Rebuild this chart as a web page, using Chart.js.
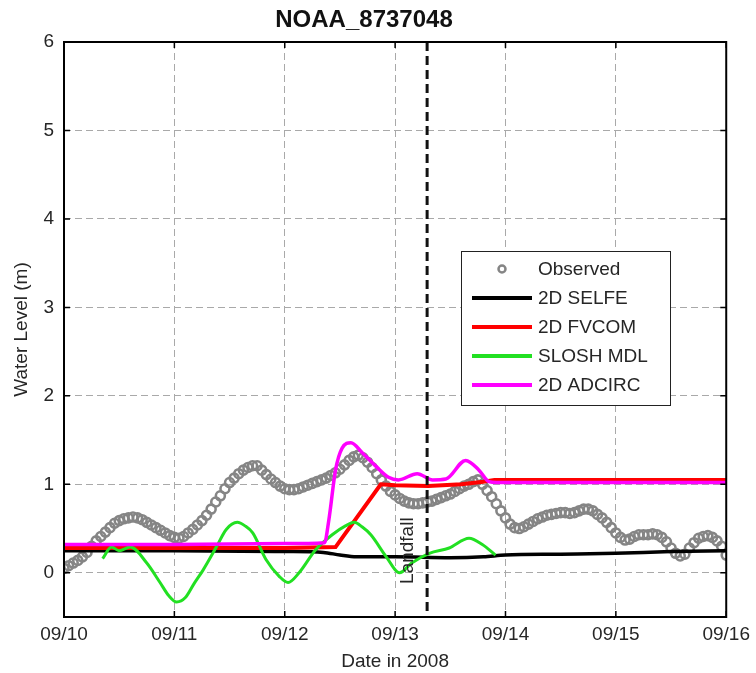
<!DOCTYPE html>
<html>
<head>
<meta charset="utf-8">
<title>NOAA_8737048</title>
<script src="https://cdn.jsdelivr.net/npm/chart.js@4.4.1/dist/chart.umd.min.js"></script>
<style>
  html, body { margin: 0; padding: 0; background: #fff; }
  #wrap { width: 756px; height: 673px; }
</style>
</head>
<body>
<div id="wrap"><canvas id="chart" width="756" height="673"></canvas></div>
<script>
// ---- data (days since 09/10 00:00) ----
const chartTitle = 'NOAA_8737048';
const xTickLabels = ['09/10', '09/11', '09/12', '09/13', '09/14', '09/15', '09/16'];
const yTickValues = [0, 1, 2, 3, 4, 5, 6];
const landfallDay = 3.29;
const landfallLabel = 'Landfall';

// observed water level, one reading per hour from 09/10 00:00
const obsStepHours = 1;
const observed = [
  0.05, 0.08, 0.11, 0.14, 0.18, 0.23, 0.30, 0.36, 0.41, 0.46, 0.51, 0.56,
  0.59, 0.61, 0.62, 0.63, 0.62, 0.60, 0.57, 0.54, 0.51, 0.48, 0.45, 0.42,
  0.40, 0.39, 0.41, 0.45, 0.49, 0.54, 0.59, 0.65, 0.72, 0.80, 0.87, 0.95,
  1.02, 1.07, 1.12, 1.16, 1.19, 1.21, 1.21, 1.16, 1.11, 1.06, 1.02, 0.98,
  0.95, 0.94, 0.94, 0.95, 0.97, 0.99, 1.01, 1.03, 1.05, 1.07, 1.10, 1.13,
  1.17, 1.22, 1.27, 1.31, 1.33, 1.30, 1.25, 1.19, 1.12, 1.05, 0.98, 0.92,
  0.88, 0.84, 0.81, 0.79, 0.78, 0.78, 0.79, 0.80, 0.81, 0.83, 0.85, 0.87,
  0.89, 0.92, 0.95, 0.98, 1.00, 1.03, 1.05, 1.00, 0.93, 0.86, 0.78, 0.70,
  0.62, 0.55, 0.51, 0.50, 0.52, 0.55, 0.58, 0.61, 0.63, 0.65, 0.66, 0.67,
  0.68, 0.68, 0.67, 0.68, 0.70, 0.72, 0.72, 0.70, 0.66, 0.62, 0.57, 0.51,
  0.45, 0.40, 0.37, 0.38, 0.41, 0.43, 0.43, 0.43, 0.44, 0.43, 0.40, 0.35,
  0.28, 0.22, 0.19, 0.21, 0.28, 0.34, 0.39, 0.41, 0.42, 0.40, 0.36, 0.30,
  0.20
];

const selfeDays = [0, 1, 2, 2.35, 2.5, 2.65, 3.0, 3.5, 3.8, 4.0, 4.5, 5.0, 5.5, 6];
const selfeVals = [0.25, 0.25, 0.24, 0.23, 0.20, 0.18, 0.18, 0.17, 0.18, 0.20, 0.21, 0.22, 0.24, 0.25];

const fvcomDays = [0, 1, 2, 2.46, 2.87, 3.0, 3.3, 3.6, 3.8, 3.9, 6];
const fvcomVals = [0.28, 0.28, 0.28, 0.29, 1.00, 0.99, 0.98, 1.00, 1.03, 1.05, 1.05];

const sloshDays = [0.35, 0.43, 0.5, 0.6, 0.75, 0.87, 0.95, 1.02, 1.1, 1.18, 1.26, 1.38, 1.47, 1.57, 1.64,
  1.71, 1.83, 1.95, 2.03, 2.13, 2.28, 2.43, 2.55, 2.63, 2.7, 2.78, 2.92, 3.04, 3.15, 3.31, 3.49, 3.67, 3.79, 3.91];
const sloshVals = [0.16, 0.29, 0.25, 0.29, 0.11, -0.11, -0.26, -0.33, -0.28, -0.12, 0.03, 0.29, 0.49, 0.57, 0.53,
  0.45, 0.15, -0.04, -0.11, 0.00, 0.26, 0.43, 0.53, 0.57, 0.52, 0.43, 0.18, 0.00, 0.11, 0.22, 0.28, 0.39, 0.32, 0.20];

const adcircDays = [0, 1, 2, 2.36, 2.4, 2.46, 2.52, 2.6, 2.7, 2.83, 2.94, 3.03, 3.2, 3.34, 3.46, 3.64, 3.76, 3.85, 3.92, 6];
const adcircVals = [0.32, 0.32, 0.33, 0.34, 0.60, 1.16, 1.41, 1.47, 1.36, 1.20, 1.08, 1.05, 1.12, 1.05, 1.06, 1.27, 1.16, 1.03, 1.02, 1.02];

const seriesNames = ['Observed', '2D SELFE', '2D FVCOM', 'SLOSH MDL', '2D ADCIRC'];

// ---- helpers ----
const toPoints = (xs, ys) => xs.map((d, i) => ({ x: d, y: ys[i] }));
const obsPoints = observed.map((v, i) => ({ x: i * obsStepHours / 24, y: v }));

const FONT = "'Liberation Sans', Arial, sans-serif";
const TEXT = '#262626';
Chart.defaults.font.family = FONT;

const overlay = {
  id: 'overlay',
  afterDatasetsDraw(chart) {
    const { ctx, chartArea: a, scales: { x, y } } = chart;
    ctx.save();

    // landfall marker
    const lx = x.getPixelForValue(landfallDay);
    ctx.beginPath();
    ctx.setLineDash([9, 5]);
    ctx.lineWidth = 3;
    ctx.strokeStyle = '#111';
    ctx.moveTo(lx, a.top);
    ctx.lineTo(lx, a.bottom);
    ctx.stroke();
    ctx.setLineDash([]);

    ctx.save();
    ctx.translate(lx - 19, y.getPixelForValue(0.25));
    ctx.rotate(-Math.PI / 2);
    ctx.font = '19px ' + FONT;
    ctx.fillStyle = TEXT;
    ctx.textAlign = 'center';
    ctx.textBaseline = 'middle';
    ctx.fillText(landfallLabel, 0, 0);
    ctx.restore();

    // inner tick marks
    ctx.strokeStyle = '#000';
    ctx.lineWidth = 1.5;
    ctx.beginPath();
    x.ticks.forEach(t => {
      const px = x.getPixelForValue(t.value);
      ctx.moveTo(px, a.bottom); ctx.lineTo(px, a.bottom - 6);
      ctx.moveTo(px, a.top); ctx.lineTo(px, a.top + 6);
    });
    y.ticks.forEach(t => {
      const py = y.getPixelForValue(t.value);
      ctx.moveTo(a.left, py); ctx.lineTo(a.left + 6, py);
      ctx.moveTo(a.right, py); ctx.lineTo(a.right - 6, py);
    });
    ctx.stroke();

    // frame
    ctx.lineWidth = 2;
    ctx.strokeRect(a.left, a.top, a.width, a.height);

    // legend
    const bx = a.left + 397, by = a.top + 209, bw = 209, bh = 154;
    ctx.fillStyle = '#fff';
    ctx.fillRect(bx, by, bw, bh);
    ctx.lineWidth = 1;
    ctx.strokeStyle = '#222';
    ctx.strokeRect(bx + 0.5, by + 0.5, bw, bh);
    ctx.font = '19px ' + FONT;
    ctx.textAlign = 'left';
    ctx.textBaseline = 'middle';
    chart.data.datasets.forEach((ds, i) => {
      const ry = by + 18 + i * 29;
      if (i === 0) {
        ctx.beginPath();
        ctx.lineWidth = 2.5;
        ctx.strokeStyle = ds.borderColor;
        ctx.arc(bx + 41, ry, 3.5, 0, Math.PI * 2);
        ctx.stroke();
      } else {
        ctx.beginPath();
        ctx.lineWidth = 4;
        ctx.strokeStyle = ds.borderColor;
        ctx.moveTo(bx + 11, ry);
        ctx.lineTo(bx + 71, ry);
        ctx.stroke();
      }
      ctx.fillStyle = TEXT;
      ctx.fillText(ds.label, bx + 77, ry + 1);
    });

    ctx.restore();
  }
};

const lineSet = (label, pts, color, width, order, smooth) => ({
  type: 'line',
  label: label,
  data: pts,
  borderColor: color,
  backgroundColor: color,
  borderWidth: width,
  pointRadius: 0,
  fill: false,
  order: order,
  cubicInterpolationMode: smooth ? 'monotone' : 'default',
  tension: 0
});

new Chart(document.getElementById('chart'), {
  type: 'scatter',
  data: {
    datasets: [
      {
        type: 'scatter',
        label: seriesNames[0],
        data: obsPoints,
        borderColor: '#858585',
        backgroundColor: 'rgba(0,0,0,0)',
        pointRadius: 4.5,
        pointBorderWidth: 2.6,
        order: 10
      },
      lineSet(seriesNames[1], toPoints(selfeDays, selfeVals), '#000000', 3.5, 5, true),
      lineSet(seriesNames[2], toPoints(fvcomDays, fvcomVals), '#ff0000', 4, 4, false),
      lineSet(seriesNames[3], toPoints(sloshDays, sloshVals), '#22e022', 3, 3, true),
      lineSet(seriesNames[4], toPoints(adcircDays, adcircVals), '#ff00ff', 3.5, 2, true)
    ]
  },
  options: {
    responsive: false,
    animation: false,
    devicePixelRatio: 1,
    layout: { padding: { left: 0, right: 28, top: 0, bottom: 0 } },
    plugins: {
      legend: { display: false },
      tooltip: { enabled: false },
      title: {
        display: true,
        text: chartTitle,
        color: '#111',
        font: { size: 24, weight: 'bold', family: FONT, lineHeight: 1.2 },
        padding: { top: 6, bottom: 7.2 }
      }
    },
    scales: {
      x: {
        type: 'linear',
        min: 0,
        max: 6,
        afterFit: s => { s.height = 56; },
        afterBuildTicks: s => { s.ticks = xTickLabels.map((_, i) => ({ value: i })); },
        ticks: {
          color: TEXT,
          font: { size: 19 },
          padding: 6,
          maxRotation: 0,
          autoSkip: false,
          callback: (v) => xTickLabels[Math.round(v)]
        },
        grid: { color: '#a9a9a9', lineWidth: 1, drawTicks: false },
        border: { display: false, dash: [7, 4] },
        title: {
          display: true,
          text: 'Date in 2008',
          color: TEXT,
          font: { size: 19 },
          padding: { top: 2, bottom: 0 }
        }
      },
      y: {
        type: 'linear',
        min: -0.5,
        max: 6,
        afterFit: s => { s.width = 64; },
        afterBuildTicks: s => { s.ticks = yTickValues.map(v => ({ value: v })); },
        ticks: {
          color: TEXT,
          font: { size: 19 },
          padding: 10,
          callback: (v) => String(v)
        },
        grid: { color: '#a9a9a9', lineWidth: 1, drawTicks: false },
        border: { display: false, dash: [7, 4] },
        title: {
          display: true,
          text: 'Water Level (m)',
          color: TEXT,
          font: { size: 19 },
          padding: { top: 10, bottom: 0 }
        }
      }
    }
  },
  plugins: [overlay]
});
</script>
</body>
</html>
